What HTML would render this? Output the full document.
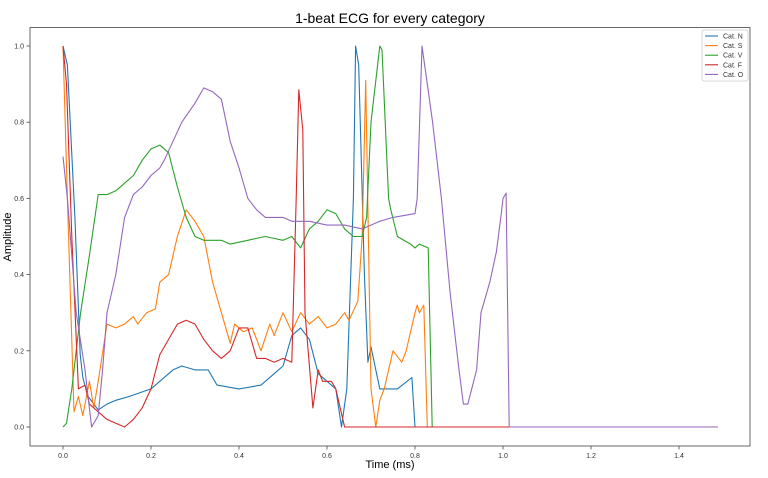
<!DOCTYPE html>
<html><head><meta charset="utf-8"><style>
body{margin:0;background:#fff;font-family:"Liberation Sans",sans-serif;}
svg{display:block}
</style></head><body>
<svg id="chart" width="768" height="478" xmlns="http://www.w3.org/2000/svg">
<text x="390" y="23" font-size="14" text-anchor="middle" font-family="Liberation Sans, sans-serif">1-beat ECG for every category</text>
<text x="390" y="468" font-size="11" text-anchor="middle" font-family="Liberation Sans, sans-serif">Time (ms)</text>
<text x="0" y="0" font-size="11" text-anchor="middle" transform="translate(11,237) rotate(-90)" font-family="Liberation Sans, sans-serif">Amplitude</text>
<g id="marks"></g>
<rect x="30" y="27.5" width="720" height="418.5" fill="none" stroke="#444" stroke-width="0.8"/>
<g id="legend">
<rect x="702" y="30" width="46" height="51" fill="#fff" stroke="#ccc" stroke-width="0.8" rx="2"/>
</g>
</svg>
<script>
const xTicks=[0,0.2,0.4,0.6,0.8,1.0,1.2,1.4];
const yTicks=[0,0.2,0.4,0.6,0.8,1.0];
const seriesNames=["Cat. N","Cat. S","Cat. V","Cat. F","Cat. O"];
const seriesColors=["#1f77b4","#ff7f0e","#2ca02c","#d62728","#9467bd"];
const tN=[0,0.01,0.027,0.039,0.045,0.057,0.08,0.1,0.12,0.15,0.2,0.22,0.25,0.27,0.3,0.33,0.35,0.4,0.45,0.48,0.5,0.52,0.54,0.56,0.58,0.6,0.62,0.633,0.645,0.66,0.665,0.672,0.685,0.693,0.7,0.72,0.76,0.793,0.8,1.488];
const vN=[1.0,0.95,0.55,0.19,0.13,0.08,0.045,0.06,0.07,0.08,0.1,0.12,0.15,0.16,0.15,0.15,0.11,0.1,0.11,0.14,0.16,0.24,0.26,0.23,0.14,0.12,0.1,0.0,0.1,0.6,1.0,0.95,0.4,0.17,0.21,0.1,0.1,0.13,0,0];
const tS=[0,0.01,0.025,0.035,0.045,0.06,0.07,0.08,0.1,0.12,0.14,0.16,0.17,0.19,0.21,0.22,0.24,0.26,0.28,0.3,0.32,0.34,0.36,0.38,0.39,0.41,0.43,0.45,0.47,0.48,0.5,0.52,0.54,0.56,0.58,0.6,0.62,0.64,0.65,0.67,0.68,0.688,0.7,0.711,0.72,0.73,0.75,0.77,0.78,0.8,0.805,0.81,0.82,0.828,1.488];
const vS=[1.0,0.6,0.04,0.08,0.03,0.12,0.05,0.12,0.27,0.26,0.27,0.29,0.27,0.3,0.31,0.38,0.4,0.5,0.57,0.54,0.5,0.38,0.3,0.22,0.27,0.25,0.26,0.2,0.27,0.24,0.3,0.25,0.3,0.27,0.29,0.26,0.27,0.3,0.28,0.33,0.5,0.91,0.1,0,0.07,0.1,0.2,0.17,0.2,0.3,0.32,0.3,0.32,0,0];
const tV=[0,0.008,0.02,0.04,0.06,0.08,0.1,0.12,0.14,0.16,0.18,0.2,0.22,0.24,0.26,0.28,0.3,0.32,0.36,0.38,0.42,0.46,0.5,0.52,0.54,0.56,0.58,0.6,0.62,0.64,0.66,0.68,0.69,0.7,0.72,0.725,0.74,0.745,0.76,0.79,0.8,0.81,0.83,0.839,1.488];
const vV=[0,0.01,0.1,0.3,0.45,0.61,0.61,0.62,0.64,0.66,0.7,0.73,0.74,0.72,0.63,0.55,0.5,0.49,0.49,0.48,0.49,0.5,0.49,0.5,0.47,0.52,0.54,0.57,0.56,0.52,0.5,0.5,0.55,0.8,1.0,0.99,0.6,0.57,0.5,0.48,0.47,0.48,0.47,0,0];
const tF=[0,0.008,0.02,0.035,0.05,0.06,0.08,0.1,0.12,0.14,0.16,0.18,0.2,0.22,0.24,0.26,0.28,0.3,0.32,0.34,0.36,0.38,0.4,0.42,0.44,0.46,0.48,0.5,0.52,0.53,0.536,0.545,0.55,0.568,0.58,0.59,0.61,0.62,0.64,1.488];
const vF=[1.0,0.9,0.5,0.1,0.11,0.06,0.04,0.02,0.01,0.0,0.02,0.05,0.1,0.19,0.23,0.27,0.28,0.27,0.23,0.2,0.18,0.2,0.26,0.26,0.18,0.18,0.17,0.18,0.17,0.6,0.885,0.78,0.3,0.05,0.15,0.12,0.12,0.1,0,0];
const tO=[0,0.01,0.03,0.05,0.06,0.065,0.08,0.09,0.1,0.12,0.14,0.16,0.18,0.2,0.22,0.23,0.25,0.27,0.3,0.32,0.34,0.36,0.38,0.4,0.42,0.44,0.46,0.5,0.52,0.56,0.6,0.64,0.68,0.7,0.72,0.75,0.8,0.805,0.816,0.84,0.86,0.88,0.9,0.91,0.92,0.94,0.95,0.97,0.985,0.995,1.0,1.007,1.014,1.488];
const vO=[0.71,0.6,0.3,0.15,0.05,0.0,0.03,0.15,0.3,0.4,0.55,0.61,0.63,0.66,0.68,0.7,0.75,0.8,0.85,0.89,0.88,0.86,0.75,0.68,0.6,0.57,0.55,0.55,0.54,0.54,0.53,0.53,0.52,0.53,0.54,0.55,0.56,0.6,1.0,0.8,0.6,0.35,0.15,0.06,0.06,0.15,0.3,0.38,0.46,0.55,0.6,0.614,0,0];
const allT=[tN,tS,tV,tF,tO];
const allV=[vN,vS,vV,vF,vO];
const x=t=>63+t*440;
const y=v=>427-v*381;
const NS="http://www.w3.org/2000/svg";
const svg=document.getElementById('chart');
const marks=document.getElementById('marks');
const legend=document.getElementById('legend');
function mk(tag,attrs,parent){const e=document.createElementNS(NS,tag);for(const k in attrs)e.setAttribute(k,attrs[k]);parent.appendChild(e);return e;}
xTicks.forEach(t=>{
  const l=mk('line',{x1:x(t),x2:x(t),y1:446,y2:449.5,stroke:'#444','stroke-width':0.8},svg);
  
  
  const tx=mk('text',{x:x(t),y:458,'font-size':7,'text-anchor':'middle',fill:'#333'},svg);
  
  
  tx.textContent=t.toFixed(1);
});
yTicks.forEach(v=>{
  const l=mk('line',{x1:26.5,x2:30,y1:y(v),y2:y(v),stroke:'#444','stroke-width':0.8},svg);
  
  
  const tx=mk('text',{x:24,y:y(v)+2.5,'font-size':7,'text-anchor':'end',fill:'#333'},svg);
  
  
  tx.textContent=v.toFixed(1);
});
allT.forEach((ts,i)=>{
  const vs=allV[i];
  const pts=ts.map((t,j)=>x(t).toFixed(1)+','+y(vs[j]).toFixed(1)).join(' ');
  const pl=mk('polyline',{points:pts,fill:'none',stroke:seriesColors[i],'stroke-width':1.1,'stroke-linejoin':'round'},marks);
  
  
  const ly=36+i*9.6;
  const ll=mk('line',{x1:705,x2:718,y1:ly,y2:ly,stroke:seriesColors[i],'stroke-width':1.1},legend);
  
  
  const lt=mk('text',{x:723,y:ly+2.5,'font-size':7,fill:'#333'},legend);
  
  
  lt.textContent=seriesNames[i];
});
</script>
</body></html>
